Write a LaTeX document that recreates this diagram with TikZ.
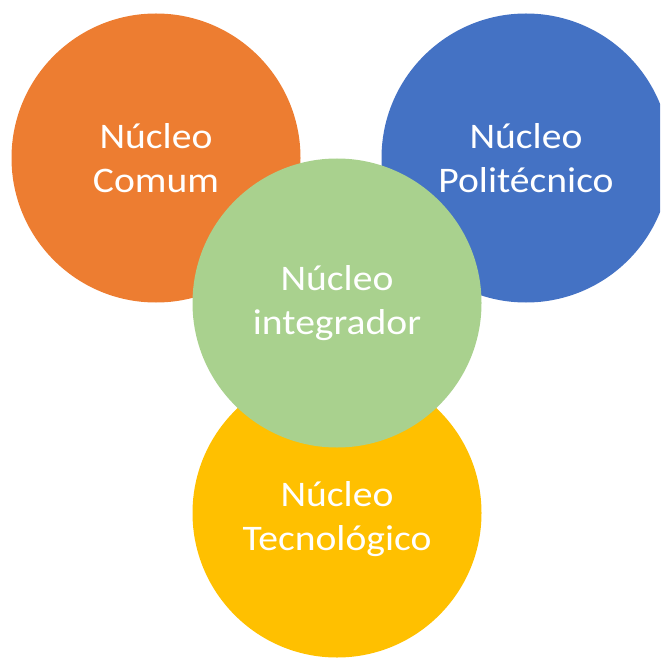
\documentclass[tikz,border=0pt]{standalone}
\usepackage{fontspec}
\setmainfont{Carlito}[FakeStretch=1.1]
\definecolor{corange}{HTML}{ED7D31}
\definecolor{cblue}{HTML}{4472C4}
\definecolor{cgreen}{HTML}{A9D18E}
\definecolor{cyellow}{HTML}{FFC000}
\tikzset{
  core/.style={circle, inner sep=0pt, minimum size=289pt, text=white, align=center,
    font=\fontsize{36pt}{44pt}\selectfont},
  coretext/.style={inner sep=0pt, text=white, align=center,
    font=\fontsize{36pt}{44pt}\selectfont},
}
\begin{document}
\begin{tikzpicture}[x=1pt,y=-1pt]
\useasboundingbox (0,0) rectangle (660,660);
\clip (0,0) rectangle (660,660);
\node[core, fill=corange] (comum) at (156,158) {Núcleo\\Comum};
\node[core, fill=cblue] (poli) at (526,158) {Núcleo\\Politécnico};
\node[core, fill=cyellow] (tec) at (337,513) {};
\node[coretext] (tectext) at ([yshift=-6pt]tec.center) {Núcleo\\Tecnológico};
\node[core, fill=cgreen] (integ) at (337,303) {Núcleo\\integrador};
\end{tikzpicture}
\end{document}
